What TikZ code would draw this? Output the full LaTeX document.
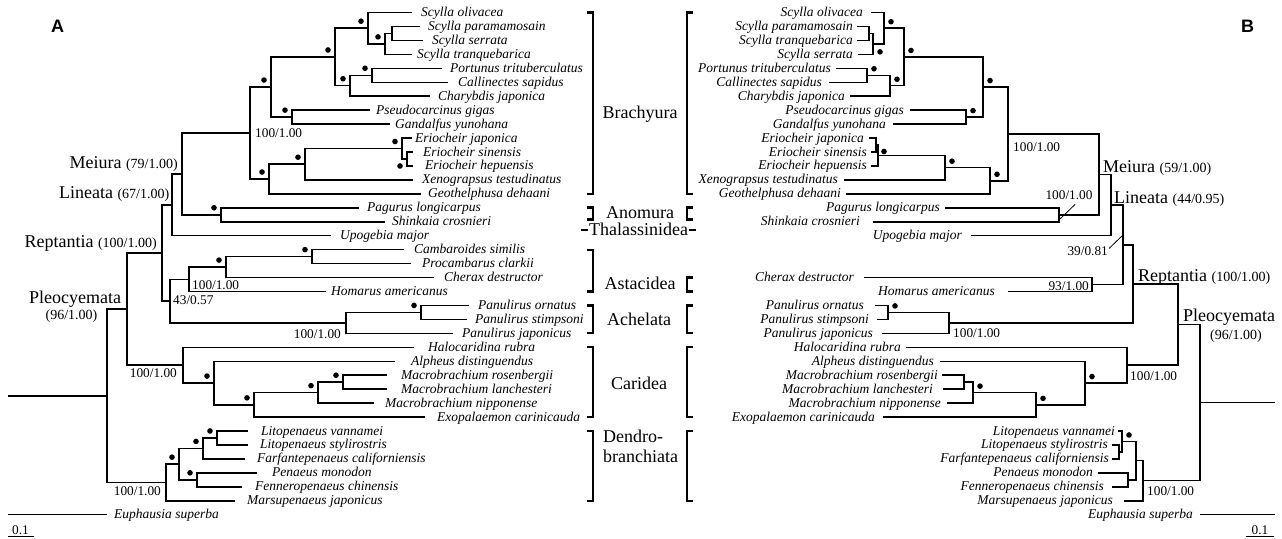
\documentclass[tikz,border=0pt]{standalone}
\usepackage{fontspec}
\setmainfont{Liberation Serif}
\newfontfamily\panelfont{Liberation Sans}
\newcommand\pnum[1]{{\fontsize{14}{16}\selectfont #1}}
\begin{document}
\begin{tikzpicture}[x=1pt,y=-1pt,
  tbr/.style={line width=1.5pt},
  tbk/.style={line width=2.2pt},
  tlead/.style={line width=0.8pt},
  ttx/.style={font=\fontsize{13.5}{14}\selectfont\itshape, inner sep=0pt},
  tsup/.style={font=\fontsize{13.3}{14}\selectfont, inner sep=0pt},
  tcl/.style={font=\fontsize{18}{20}\selectfont, inner sep=0pt},
  tpr/.style={font=\fontsize{14}{16}\selectfont, inner sep=0pt},
  tpan/.style={font=\fontsize{18}{20}\panelfont\bfseries, inner sep=0pt}]
\useasboundingbox (0,0) rectangle (1282,538);
\fill[white] (0,0) rectangle (1282,538);

% ================= LEFT TREE (A) =================
\coordinate (a1) at (412,12.5);   \coordinate (a2) at (420,26.45);
\coordinate (a3) at (423,40.4);   \coordinate (a4) at (412,54.35);
\coordinate (a5) at (442,68.3);   \coordinate (a6) at (448,82.25);
\coordinate (a7) at (430,96.2);   \coordinate (a8) at (370,110.15);
\coordinate (a9) at (390,124.1);  \coordinate (a10) at (412,138.05);
\coordinate (a11) at (413,152);   \coordinate (a12) at (413,165.95);
\coordinate (a13) at (413,179.9); \coordinate (a14) at (421,193.85);
\coordinate (a15) at (359,207.8); \coordinate (a16) at (385,221.75);
\coordinate (a17) at (331,235.7); \coordinate (a18) at (404,249.65);
\coordinate (a19) at (411,263.6); \coordinate (a20) at (434,277.55);
\coordinate (a21) at (326,291.5); \coordinate (a22) at (469,305.45);
\coordinate (a23) at (467,319.4); \coordinate (a24) at (453,333.35);
\coordinate (a25) at (414,347.3); \coordinate (a26) at (395,361.25);
\coordinate (a27) at (387,375.2); \coordinate (a28) at (387,389.15);
\coordinate (a29) at (374,403.1); \coordinate (a30) at (425,417.05);
\coordinate (a31) at (248,431);   \coordinate (a32) at (248,444.95);
\coordinate (a33) at (245,458.9); \coordinate (a34) at (257,472.85);
\coordinate (a35) at (242,486.8); \coordinate (a36) at (235,500.75);
\coordinate (a37) at (107,514.7);
\coordinate (nS23) at (392,33.43);  \coordinate (nS234) at (385,43.89);
\coordinate (nScy) at (368,28.19);  \coordinate (nPC) at (372,75.28);
\coordinate (nPCC) at (350,85.74);  \coordinate (nPort) at (335,56.97);
\coordinate (nPG) at (292,117.13);  \coordinate (nB1) at (271,87.05);
\coordinate (nEsh) at (407,158.98); \coordinate (nEri) at (402,148.51);
\coordinate (nEX) at (305,164.21);  \coordinate (nEXG) at (269,179.03);
\coordinate (nBr) at (250,133.04);  \coordinate (nAn) at (221,214.78);
\coordinate (nMe) at (182,173.91);  \coordinate (nLi) at (172,204.8);
\coordinate (nAs) at (312,256.63);  \coordinate (nCPC) at (226,267.09);
\coordinate (nAst) at (189,279.3);  \coordinate (nPos) at (421,312.43);
\coordinate (nPan) at (346,322.89); \coordinate (nAA) at (170,301.09);
\coordinate (nRe) at (162,252.95);  \coordinate (nMM) at (343,382.18);
\coordinate (nMMN) at (318,392.64); \coordinate (nMMNE) at (254,404.85);
\coordinate (nAl) at (214,383.05);  \coordinate (nCa) at (183,365.18);
\coordinate (nPl) at (127,309.06);  \coordinate (nLL) at (217,437.98);
\coordinate (nLLF) at (203,448.44); \coordinate (nPF) at (197,479.83);
\coordinate (nD1) at (179,464.14);  \coordinate (nDe) at (166,482.45);
\coordinate (root) at (107,395.75);
\coordinate (r0) at (7.5,395.75);   \coordinate (e0) at (7.5,514.7);

\draw[tbr] (a2) -| (nS23) |- (a3);
\draw[tbr] (nS23) -| (nS234) |- (a4);
\draw[tbr] (a1) -| (nScy) |- (nS234);
\draw[tbr] (a5) -| (nPC) |- (a6);
\draw[tbr] (nPC) -| (nPCC) |- (a7);
\draw[tbr] (nScy) -| (nPort) |- (nPCC);
\draw[tbr] (a8) -| (nPG) |- (a9);
\draw[tbr] (nPort) -| (nB1) |- (nPG);
\draw[tbr] (a11) -| (nEsh) |- (a12);
\draw[tbr] (a10) -| (nEri) |- (nEsh);
\draw[tbr] (nEri) -| (nEX) |- (a13);
\draw[tbr] (nEX) -| (nEXG) |- (a14);
\draw[tbr] (nB1) -| (nBr) |- (nEXG);
\draw[tbr] (a15) -| (nAn) |- (a16);
\draw[tbr] (nBr) -| (nMe) |- (nAn);
\draw[tbr] (nMe) -| (nLi) |- (a17);
\draw[tbr] (a18) -| (nAs) |- (a19);
\draw[tbr] (nAs) -| (nCPC) |- (a20);
\draw[tbr] (nCPC) -| (nAst) |- (a21);
\draw[tbr] (a22) -| (nPos) |- (a23);
\draw[tbr] (nPos) -| (nPan) |- (a24);
\draw[tbr] (nAst) -| (nAA) |- (nPan);
\draw[tbr] (nLi) -| (nRe) |- (nAA);
\draw[tbr] (a27) -| (nMM) |- (a28);
\draw[tbr] (nMM) -| (nMMN) |- (a29);
\draw[tbr] (nMMN) -| (nMMNE) |- (a30);
\draw[tbr] (a26) -| (nAl) |- (nMMNE);
\draw[tbr] (a25) -| (nCa) |- (nAl);
\draw[tbr] (nRe) -| (nPl) |- (nCa);
\draw[tbr] (a31) -| (nLL) |- (a32);
\draw[tbr] (nLL) -| (nLLF) |- (a33);
\draw[tbr] (a34) -| (nPF) |- (a35);
\draw[tbr] (nLLF) -| (nD1) |- (nPF);
\draw[tbr] (nD1) -| (nDe) |- (a36);
\draw[tbr] (nPl) -| (root) |- (nDe);
\draw[tbr] (r0) -- (root);
\draw[tbr] (e0) -- (a37);

\foreach \c in {nS234,nScy,nPort,nB1,nPCC,nPC,nPG,nEri,nEX,nEXG,nAn,nAs,nCPC,nPos,nAl,nMMNE,nMMN,nMM,nLL,nLLF,nD1,nPF}
  \fill ([shift={(-7,-7)}]\c) circle[radius=2.8pt];
\fill ([shift={(-7,7)}]nEsh) circle[radius=2.8pt];

\node[ttx,anchor=base west] (ta1) at (421,16.5) {Scylla olivacea};
\node[ttx,anchor=base west] (ta2) at (428,30.45) {Scylla paramamosain};
\node[ttx,anchor=base west] (ta3) at (432,44.4) {Scylla serrata};
\node[ttx,anchor=base west] (ta4) at (417,58.35) {Scylla tranquebarica};
\node[ttx,anchor=base west] (ta5) at (450,72.3) {Portunus trituberculatus};
\node[ttx,anchor=base west] (ta6) at (458,86.25) {Callinectes sapidus};
\node[ttx,anchor=base west] (ta7) at (438,100.2) {Charybdis japonica};
\node[ttx,anchor=base west] (ta8) at (376,114.15) {Pseudocarcinus gigas};
\node[ttx,anchor=base west] (ta9) at (395,128.1) {Gandalfus yunohana};
\node[ttx,anchor=base west] (ta10) at (415,142.05) {Eriocheir japonica};
\node[ttx,anchor=base west] (ta11) at (423,156) {Eriocheir sinensis};
\node[ttx,anchor=base west] (ta12) at (425,169.95) {Eriocheir hepuensis};
\node[ttx,anchor=base west] (ta13) at (422,183.9) {Xenograpsus testudinatus};
\node[ttx,anchor=base west] (ta14) at (428,197.85) {Geothelphusa dehaani};
\node[ttx,anchor=base west] (ta15) at (367,211.8) {Pagurus longicarpus};
\node[ttx,anchor=base west] (ta16) at (392,225.75) {Shinkaia crosnieri};
\node[ttx,anchor=base west] (ta17) at (340,239.7) {Upogebia major};
\node[ttx,anchor=base west] (ta18) at (414,253.65) {Cambaroides similis};
\node[ttx,anchor=base west] (ta19) at (422,267.6) {Procambarus clarkii};
\node[ttx,anchor=base west] (ta20) at (444,281.55) {Cherax destructor};
\node[ttx,anchor=base west] (ta21) at (331,295.5) {Homarus americanus};
\node[ttx,anchor=base west] (ta22) at (478,309.45) {Panulirus ornatus};
\node[ttx,anchor=base west] (ta23) at (475,323.4) {Panulirus stimpsoni};
\node[ttx,anchor=base west] (ta24) at (462,337.35) {Panulirus japonicus};
\node[ttx,anchor=base west] (ta25) at (428,351.3) {Halocaridina rubra};
\node[ttx,anchor=base west] (ta26) at (411,365.25) {Alpheus distinguendus};
\node[ttx,anchor=base west] (ta27) at (401,379.2) {Macrobrachium rosenbergii};
\node[ttx,anchor=base west] (ta28) at (401,393.15) {Macrobrachium lanchesteri};
\node[ttx,anchor=base west] (ta29) at (385,407.1) {Macrobrachium nipponense};
\node[ttx,anchor=base west] (ta30) at (437,421.05) {Exopalaemon carinicauda};
\node[ttx,anchor=base west] (ta31) at (261,435) {Litopenaeus vannamei};
\node[ttx,anchor=base west] (ta32) at (260,448.95) {Litopenaeus stylirostris};
\node[ttx,anchor=base west] (ta33) at (257,462.9) {Farfantepenaeus californiensis};
\node[ttx,anchor=base west] (ta34) at (272,476.85) {Penaeus monodon};
\node[ttx,anchor=base west] (ta35) at (255,490.8) {Fenneropenaeus chinensis};
\node[ttx,anchor=base west] (ta36) at (247,504.75) {Marsupenaeus japonicus};
\node[ttx,anchor=base west] (ta37) at (114,518.7) {Euphausia superba};

\node[tsup,anchor=west] (sBr) at (255,133) {100/1.00};
\node[tsup,anchor=west] (sAst) at (192,285) {100/1.00};
\node[tsup,anchor=west] (sAA) at (173,300.5) {43/0.57};
\node[tsup,anchor=east] (sPan) at (341,334) {100/1.00};
\node[tsup,anchor=east] (sCa) at (177,373) {100/1.00};
\node[tsup,anchor=east] (sDe) at (161,491) {100/1.00};

\node[tcl,anchor=base east] (cMe) at (178,168.5) {Meiura \pnum{(79/1.00)}};
\node[tcl,anchor=base east] (cLi) at (169.5,198.5) {Lineata \pnum{(67/1.00)}};
\node[tcl,anchor=base east] (cRe) at (157,247.5) {Reptantia \pnum{(100/1.00)}};
\node[tcl,anchor=base] (cPl) at (75,303.5) {Pleocyemata};
\node[tpr,anchor=base] (cPl2) at (71.5,319.5) {(96/1.00)};

% ================= RIGHT TREE (B) =================
\coordinate (b1) at (871,12.5);    \coordinate (b2) at (857,26.45);
\coordinate (b3) at (857,40.4);    \coordinate (b4) at (858,54.35);
\coordinate (b5) at (836,68.3);    \coordinate (b6) at (829,82.25);
\coordinate (b7) at (850,96.2);    \coordinate (b8) at (910,110.15);
\coordinate (b9) at (893,124.1);   \coordinate (b10) at (869,138.05);
\coordinate (b11) at (871,152);    \coordinate (b12) at (871,165.95);
\coordinate (b13) at (844,179.9);  \coordinate (b14) at (846,193.85);
\coordinate (b15) at (945,207.8);  \coordinate (b16) at (873,221.75);
\coordinate (b17) at (971,235.7);  \coordinate (b20) at (864,277.55);
\coordinate (b21) at (1008,291.5); \coordinate (b22) at (875,305.45);
\coordinate (b23) at (877,319.4);  \coordinate (b24) at (882,333.35);
\coordinate (b25) at (906,347.3);  \coordinate (b26) at (940,361.25);
\coordinate (b27) at (942,375.2);  \coordinate (b28) at (943,389.15);
\coordinate (b29) at (947,403.1);  \coordinate (b30) at (883,417.05);
\coordinate (b31) at (1118,431);   \coordinate (b32) at (1112,444.95);
\coordinate (b33) at (1112,458.9); \coordinate (b34) at (1098,472.85);
\coordinate (b35) at (1112,486.8); \coordinate (b36) at (1124,500.75);
\coordinate (b37) at (1200,514.7);

\coordinate (rS23) at (869,33.43);   \coordinate (rS234) at (873,43.89);
\coordinate (rS1) at (884,28.19);    \coordinate (rPC) at (867,75.28);
\coordinate (rPCC) at (890,85.74);   \coordinate (rPort) at (904,56.97);
\coordinate (rPG) at (966,117.13);   \coordinate (rB1) at (983,87.05);
\coordinate (rJS) at (876,145.03);   \coordinate (rE) at (878,155.49);
\coordinate (rEX) at (945,167.69);   \coordinate (rEXG) at (990,180.77);
\coordinate (rBr) at (1008,133.91);  \coordinate (rAn) at (1059,214.78);
\coordinate (rMe) at (1099,174.35);  \coordinate (rLi) at (1111,205.02);
\coordinate (rAs) at (1092,284.53);  \coordinate (rLA) at (1123,244.78);
\coordinate (rPos) at (888,312.43);  \coordinate (rPan) at (949,322.89);
\coordinate (rRA) at (1133,283.84);  \coordinate (rMM) at (964,382.18);
\coordinate (rMMN) at (973,392.64);  \coordinate (rMMNE) at (1036,404.85);
\coordinate (rAl) at (1085,383.05);  \coordinate (rCa) at (1127,365.18);
\coordinate (rPl) at (1178,324.51);  \coordinate (rSF) at (1119,451.93);
\coordinate (rV) at (1122,441.46);   \coordinate (rPF) at (1128,479.83);
\coordinate (rD1) at (1136,460.64);  \coordinate (rDe) at (1143,480.7);
\coordinate (rRoot) at (1200,402.6);
\coordinate (rr0) at (1275,402.6);   \coordinate (re0) at (1275,514.7);

\draw[tbr] (b2) -| (rS23) |- (b3);
\draw[tbr] (rS23) -| (rS234) |- (b4);
\draw[tbr] (b1) -| (rS1) |- (rS234);
\draw[tbr] (b5) -| (rPC) |- (b6);
\draw[tbr] (rPC) -| (rPCC) |- (b7);
\draw[tbr] (rS1) -| (rPort) |- (rPCC);
\draw[tbr] (b8) -| (rPG) |- (b9);
\draw[tbr] (rPort) -| (rB1) |- (rPG);
\draw[tbr] (b10) -| (rJS) |- (b11);
\draw[tbr] (rJS) -| (rE) |- (b12);
\draw[tbr] (rE) -| (rEX) |- (b13);
\draw[tbr] (rEX) -| (rEXG) |- (b14);
\draw[tbr] (rB1) -| (rBr) |- (rEXG);
\draw[tbr] (b15) -| (rAn) |- (b16);
\draw[tbr] (rBr) -| (rMe) |- (rAn);
\draw[tbr] (rMe) -| (rLi) |- (b17);
\draw[tbr] (b20) -| (rAs) |- (b21);
\draw[tbr] (rLi) -| (rLA) |- (rAs);
\draw[tbr] (b22) -| (rPos) |- (b23);
\draw[tbr] (rPos) -| (rPan) |- (b24);
\draw[tbr] (rLA) -| (rRA) |- (rPan);
\draw[tbr] (b27) -| (rMM) |- (b28);
\draw[tbr] (rMM) -| (rMMN) |- (b29);
\draw[tbr] (rMMN) -| (rMMNE) |- (b30);
\draw[tbr] (b26) -| (rAl) |- (rMMNE);
\draw[tbr] (b25) -| (rCa) |- (rAl);
\draw[tbr] (rRA) -| (rPl) |- (rCa);
\draw[tbr] (b32) -| (rSF) |- (b33);
\draw[tbr] (b31) -| (rV) |- (rSF);
\draw[tbr] (b34) -| (rPF) |- (b35);
\draw[tbr] (rV) -| (rD1) |- (rPF);
\draw[tbr] (rD1) -| (rDe) |- (b36);
\draw[tbr] (rPl) -| (rRoot) |- (rDe);
\draw[tbr] (rRoot) -- (rr0);
\draw[tbr] (b37) -- (re0);

\foreach \c in {rS1,rPC,rPCC,rPort,rPG,rB1,rEX,rEXG,rPos,rAl,rMMN,rMMNE,rV}
  \fill ([shift={(7,-6.5)}]\c) circle[radius=2.8pt];
\fill ([shift={(7,8)}]rS234) circle[radius=2.8pt];
\fill ([shift={(6,-4)}]rE) circle[radius=2.8pt];

\node[ttx,anchor=base east] (tb1) at (863,16.5) {Scylla olivacea};
\node[ttx,anchor=base east] (tb2) at (853,30.45) {Scylla paramamosain};
\node[ttx,anchor=base east] (tb3) at (853,44.4) {Scylla tranquebarica};
\node[ttx,anchor=base east] (tb4) at (853,58.35) {Scylla serrata};
\node[ttx,anchor=base east] (tb5) at (831,72.3) {Portunus trituberculatus};
\node[ttx,anchor=base east] (tb6) at (822,86.25) {Callinectes sapidus};
\node[ttx,anchor=base east] (tb7) at (845,100.2) {Charybdis japonica};
\node[ttx,anchor=base east] (tb8) at (904,114.15) {Pseudocarcinus gigas};
\node[ttx,anchor=base east] (tb9) at (886,128.1) {Gandalfus yunohana};
\node[ttx,anchor=base east] (tb10) at (864,142.05) {Eriocheir japonica};
\node[ttx,anchor=base east] (tb11) at (867,156) {Eriocheir sinensis};
\node[ttx,anchor=base east] (tb12) at (867,169.95) {Eriocheir hepuensis};
\node[ttx,anchor=base east] (tb13) at (838,183.9) {Xenograpsus testudinatus};
\node[ttx,anchor=base east] (tb14) at (841,197.85) {Geothelphusa dehaani};
\node[ttx,anchor=base east] (tb15) at (940,211.8) {Pagurus longicarpus};
\node[ttx,anchor=base east] (tb16) at (860,225.75) {Shinkaia crosnieri};
\node[ttx,anchor=base east] (tb17) at (962,239.7) {Upogebia major};
\node[ttx,anchor=base east] (tb20) at (854,281.55) {Cherax destructor};
\node[ttx,anchor=base east] (tb21) at (995,295.5) {Homarus americanus};
\node[ttx,anchor=base east] (tb22) at (864,309.45) {Panulirus ornatus};
\node[ttx,anchor=base east] (tb23) at (869,323.4) {Panulirus stimpsoni};
\node[ttx,anchor=base east] (tb24) at (873,337.35) {Panulirus japonicus};
\node[ttx,anchor=base east] (tb25) at (901,351.3) {Halocaridina rubra};
\node[ttx,anchor=base east] (tb26) at (934,365.25) {Alpheus distinguendus};
\node[ttx,anchor=base east] (tb27) at (938,379.2) {Macrobrachium rosenbergii};
\node[ttx,anchor=base east] (tb28) at (933,393.15) {Macrobrachium lanchesteri};
\node[ttx,anchor=base east] (tb29) at (941,407.1) {Macrobrachium nipponense};
\node[ttx,anchor=base east] (tb30) at (875,421.05) {Exopalaemon carinicauda};
\node[ttx,anchor=base east] (tb31) at (1115,435) {Litopenaeus vannamei};
\node[ttx,anchor=base east] (tb32) at (1108,448.95) {Litopenaeus stylirostris};
\node[ttx,anchor=base east] (tb33) at (1109,462.9) {Farfantepenaeus californiensis};
\node[ttx,anchor=base east] (tb34) at (1093,476.85) {Penaeus monodon};
\node[ttx,anchor=base east] (tb35) at (1104,490.8) {Fenneropenaeus chinensis};
\node[ttx,anchor=base east] (tb36) at (1113,504.75) {Marsupenaeus japonicus};
\node[ttx,anchor=base east] (tb37) at (1193,518.7) {Euphausia superba};

\node[tsup,anchor=west] (rsBr) at (1013,147) {100/1.00};
\node[tsup] (rsAn) at (1069,195) {100/1.00};
\coordinate (lA1) at (1060,219); \coordinate (lA2) at (1075,204.5);
\draw[tlead] (lA1) -- (lA2);
\node[tsup,anchor=east] (rsAs) at (1089,286) {93/1.00};
\node[tsup,anchor=east] (rsLA) at (1108,251) {39/0.81};
\coordinate (lB1) at (1109,248.5); \coordinate (lB2) at (1123,235);
\draw[tlead] (lB1) -- (lB2);
\node[tsup,anchor=west] (rsPan) at (953,333) {100/1.00};
\node[tsup,anchor=west] (rsCa) at (1130,376) {100/1.00};
\node[tsup,anchor=west] (rsDe) at (1147,491) {100/1.00};

\node[tcl,anchor=base west] (rcMe) at (1103,172.3) {Meiura \pnum{(59/1.00)}};
\node[tcl,anchor=base west] (rcLi) at (1114,203) {Lineata \pnum{(44/0.95)}};
\node[tcl,anchor=base west] (rcRe) at (1138,281.5) {Reptantia \pnum{(100/1.00)}};
\node[tcl,anchor=base west] (rcPl) at (1183,321.5) {Pleocyemata};
\node[tpr,anchor=base] (rcPl2) at (1236,339.5) {(96/1.00)};

% ================= CLADE BRACKETS =================
\draw[tbk] (587,12.5) -- (593,12.5) -- (593,193.85) -- (587,193.85);
\draw[tbk] (693,12.5) -- (687,12.5) -- (687,193.85) -- (693,193.85);
\draw[tbk] (587,207.5) -- (593,207.5) -- (593,219.5) -- (587,219.5);
\draw[tbk] (693,207.5) -- (687,207.5) -- (687,219.5) -- (693,219.5);
\draw[tbk] (581,230) -- (588,230);
\draw[tbk] (689,230) -- (696,230);
\draw[tbk] (587,249.65) -- (593,249.65) -- (593,291.5) -- (587,291.5);
\draw[tbk] (693,277.55) -- (687,277.55) -- (687,291.5) -- (693,291.5);
\draw[tbk] (587,305.45) -- (593,305.45) -- (593,333.35) -- (587,333.35);
\draw[tbk] (693,305.45) -- (687,305.45) -- (687,333.35) -- (693,333.35);
\draw[tbk] (587,347.3) -- (593,347.3) -- (593,417.05) -- (587,417.05);
\draw[tbk] (693,347.3) -- (687,347.3) -- (687,417.05) -- (693,417.05);
\draw[tbk] (587,431) -- (593,431) -- (593,500.75) -- (587,500.75);
\draw[tbk] (693,431) -- (687,431) -- (687,500.75) -- (693,500.75);

\node[tcl,anchor=base] (kBr) at (640,118) {Brachyura};
\node[tcl,anchor=base] (kAn) at (640,218.5) {Anomura};
\node[tcl,anchor=base] (kTh) at (638.5,235.5) {Thalassinidea};
\node[tcl,anchor=base] (kAs) at (640,289.5) {Astacidea};
\node[tcl,anchor=base] (kAc) at (639,325.5) {Achelata};
\node[tcl,anchor=base] (kCa) at (639,389.5) {Caridea};
\node[tcl,anchor=base west,align=left] (kDe) at (603,462.5) {Dendro-\\branchiata};

% ================= SCALE BARS & PANEL LETTERS =================
\coordinate (sL1) at (7.5,536.5); \coordinate (sL2) at (33.5,536.5);
\draw[tbr] (sL1) -- (sL2);
\node[tsup,anchor=base] (sLt) at (20.5,534) {0.1};
\coordinate (sR1) at (1246,536.5); \coordinate (sR2) at (1274,536.5);
\draw[tbr] (sR1) -- (sR2);
\node[tsup,anchor=base] (sRt) at (1260,534) {0.1};

\node[tpan] (pA) at (57.5,26) {A};
\node[tpan] (pB) at (1247.5,26) {B};
\end{tikzpicture}
\end{document}
